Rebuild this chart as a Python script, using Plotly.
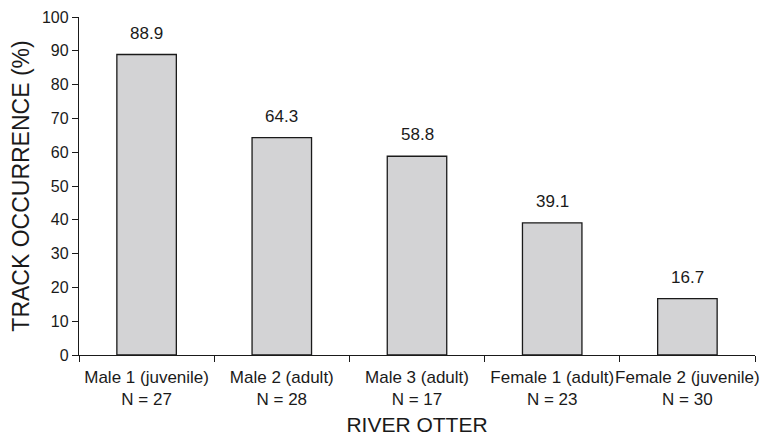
import plotly.graph_objects as go

categories = ["Male 1 (juvenile)", "Male 2 (adult)", "Male 3 (adult)", "Female 1 (adult)", "Female 2 (juvenile)"]
sample_sizes = [27, 28, 17, 23, 30]
occurrence = [88.9, 64.3, 58.8, 39.1, 16.7]
y_ticks = list(range(0, 101, 10))

labels = [f"{c}<br>N = {n}" for c, n in zip(categories, sample_sizes)]
font_family = "Liberation Sans, Arial, sans-serif"

fig = go.Figure(go.Bar(
    x=labels,
    y=occurrence,
    width=0.44,
    marker=dict(color="#d3d3d5", line=dict(color="#1a1a1a", width=1.3)),
    hoverinfo="skip",
))

for lab, v in zip(labels, occurrence):
    fig.add_annotation(x=lab, y=v, text=f"{v:.1f}", showarrow=False,
                       yanchor="bottom", yshift=10,
                       font=dict(family=font_family, size=17, color="#1a1a1a"))

fig.update_layout(
    width=772, height=441,
    margin=dict(l=71, r=25, t=9, b=94),
    paper_bgcolor="white", plot_bgcolor="white",
    showlegend=False,
    font=dict(family=font_family, color="#1a1a1a"),
)
fig.update_xaxes(
    type="category",
    tickson="boundaries",
    tickangle=0,
    automargin=False,
    ticks="outside", ticklen=6, tickwidth=1.3, tickcolor="#1a1a1a",
    ticklabelstandoff=6,
    showline=True, linecolor="#1a1a1a", linewidth=1.3,
    showgrid=False,
    tickfont=dict(size=17),
    title=dict(text="RIVER OTTER", font=dict(size=21), standoff=9),
)
fig.update_yaxes(
    range=[0, 100],
    tickvals=y_ticks,
    automargin=False,
    ticks="outside", ticklen=6, tickwidth=1.3, tickcolor="#1a1a1a",
    showline=True, linecolor="#1a1a1a", linewidth=1.3,
    showgrid=False, zeroline=False,
    tickfont=dict(size=16),
    title=dict(text="TRACK OCCURRENCE (%)", font=dict(size=23), standoff=14),
)

fig.write_html("out.html")
